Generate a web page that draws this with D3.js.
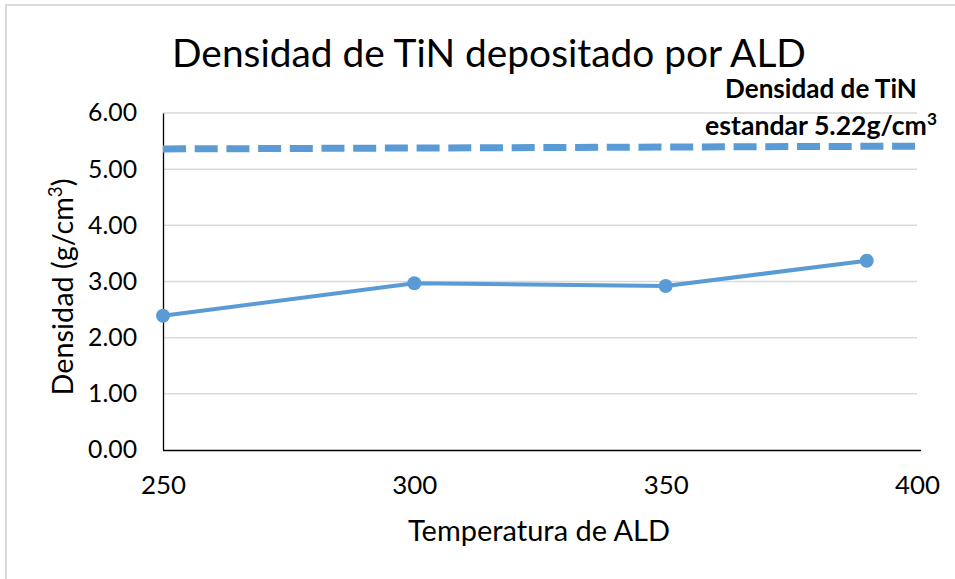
<!DOCTYPE html>
<html>
<head>
<meta charset="utf-8">
<script src="https://cdn.jsdelivr.net/npm/d3@7"></script>
<style>
  html, body { margin: 0; padding: 0; background: #fff; }
  svg { display: block; }
  text { font-family: Lato, "Open Sans", sans-serif; fill: #000; }
</style>
</head>
<body>
<svg id="chart" width="955" height="579"></svg>
<script>
// ---- data ----
const temperatures = [250, 300, 350, 390];
const densities = [2.39, 2.97, 2.92, 3.37];
const refTemperatures = [250, 400];
const refDensities = [5.36, 5.41];
const xTicks = [250, 300, 350, 400];
const yTicks = [0, 1, 2, 3, 4, 5, 6];
const titleText = "Densidad de TiN depositado por ALD";
const xTitle = "Temperatura de ALD";
const yTitle = "Densidad (g/cm";
const noteLine1 = "Densidad de TiN";
const noteLine2 = "estandar 5.22g/cm";

(function () {
const svg = d3.select("#chart");
const W = 955, H = 579;
const pLeft = 163, pRight = 917, pTop = 113, pBottom = 450;
const blue = "#5B9BD5";

// fit text horizontally to a target width by adjusting the font size
function fit(sel, target) {
  sel.attr("font-size", 100);
  const w = sel.node().getBBox().width;
  sel.attr("font-size", 100 * target / w);
  return sel;
}

svg.append("rect").attr("x", 0).attr("y", 0).attr("width", W).attr("height", H).attr("fill", "#fff");
svg.append("rect").attr("x", 6).attr("y", 5).attr("width", 1000).attr("height", 1000)
  .attr("fill", "none").attr("stroke", "#D9D9D9").attr("stroke-width", 2);

const x = d3.scaleLinear().domain([250, 400]).range([pLeft, pRight]);
const y = d3.scaleLinear().domain([0, 6]).range([pBottom, pTop]);

// gridlines
svg.append("g").selectAll("line").data(yTicks.filter(d => d > 0)).join("line")
  .attr("x1", pLeft).attr("x2", pRight)
  .attr("y1", d => y(d)).attr("y2", d => y(d))
  .attr("stroke", "#D9D9D9").attr("stroke-width", 1.5);

// y axis
const yAxis = svg.append("g").attr("transform", `translate(${pLeft},0)`)
  .call(d3.axisLeft(y).tickValues(yTicks).tickFormat(d3.format(".2f")).tickSize(0).tickPadding(26));
yAxis.select(".domain").attr("stroke", "#000").attr("stroke-width", 1.3);
yAxis.selectAll("text").attr("font-family", "Lato").each(function() { fit(d3.select(this), 49); });

// x axis
const xAxis = svg.append("g").attr("transform", `translate(0,${pBottom})`)
  .call(d3.axisBottom(x).tickValues(xTicks).tickFormat(d3.format("d")).tickSize(0).tickPadding(26));
xAxis.select(".domain").attr("stroke", "#000").attr("stroke-width", 1.3).attr("d", `M${pLeft},0.5H${pRight + 4}`);
xAxis.selectAll("text").attr("font-family", "Lato").each(function() { fit(d3.select(this), 45); });

// reference dashed line
svg.append("path")
  .datum(refTemperatures.map((t, i) => [t, refDensities[i]]))
  .attr("d", d3.line().x(d => x(d[0])).y(d => y(d[1])))
  .attr("fill", "none").attr("stroke", blue).attr("stroke-width", 7)
  .attr("stroke-dasharray", "23,8.7");

// data line
const pts = temperatures.map((t, i) => [t, densities[i]]);
svg.append("path").datum(pts)
  .attr("d", d3.line().x(d => x(d[0])).y(d => y(d[1])))
  .attr("fill", "none").attr("stroke", blue).attr("stroke-width", 4).attr("stroke-linejoin", "round");
svg.append("g").selectAll("circle").data(pts).join("circle")
  .attr("cx", d => x(d[0])).attr("cy", d => y(d[1])).attr("r", 7).attr("fill", blue);

// title
fit(svg.append("text").attr("x", 489).attr("y", 67).attr("text-anchor", "middle").text(titleText), 634);

// x axis title
fit(svg.append("text").attr("x", 539).attr("y", 541).attr("text-anchor", "middle").text(xTitle), 262);

// y axis title
const yt = svg.append("text").attr("text-anchor", "middle")
  .attr("transform", "translate(73,287) rotate(-90)");
yt.append("tspan").text(yTitle);
yt.append("tspan").attr("baseline-shift", "super").attr("font-size", "65%").text("3");
yt.append("tspan").text(")");
fit(yt, 217);

// annotation
fit(svg.append("text").attr("x", 821).attr("y", 98).attr("text-anchor", "middle")
  .attr("font-weight", "bold").text(noteLine1), 192);
const n2 = svg.append("text").attr("x", 821).attr("y", 135).attr("text-anchor", "middle")
  .attr("font-weight", "bold");
n2.append("tspan").text(noteLine2);
n2.append("tspan").attr("baseline-shift", "super").attr("font-size", "65%").text("3");
fit(n2, 232);
})();
</script>
</body>
</html>
